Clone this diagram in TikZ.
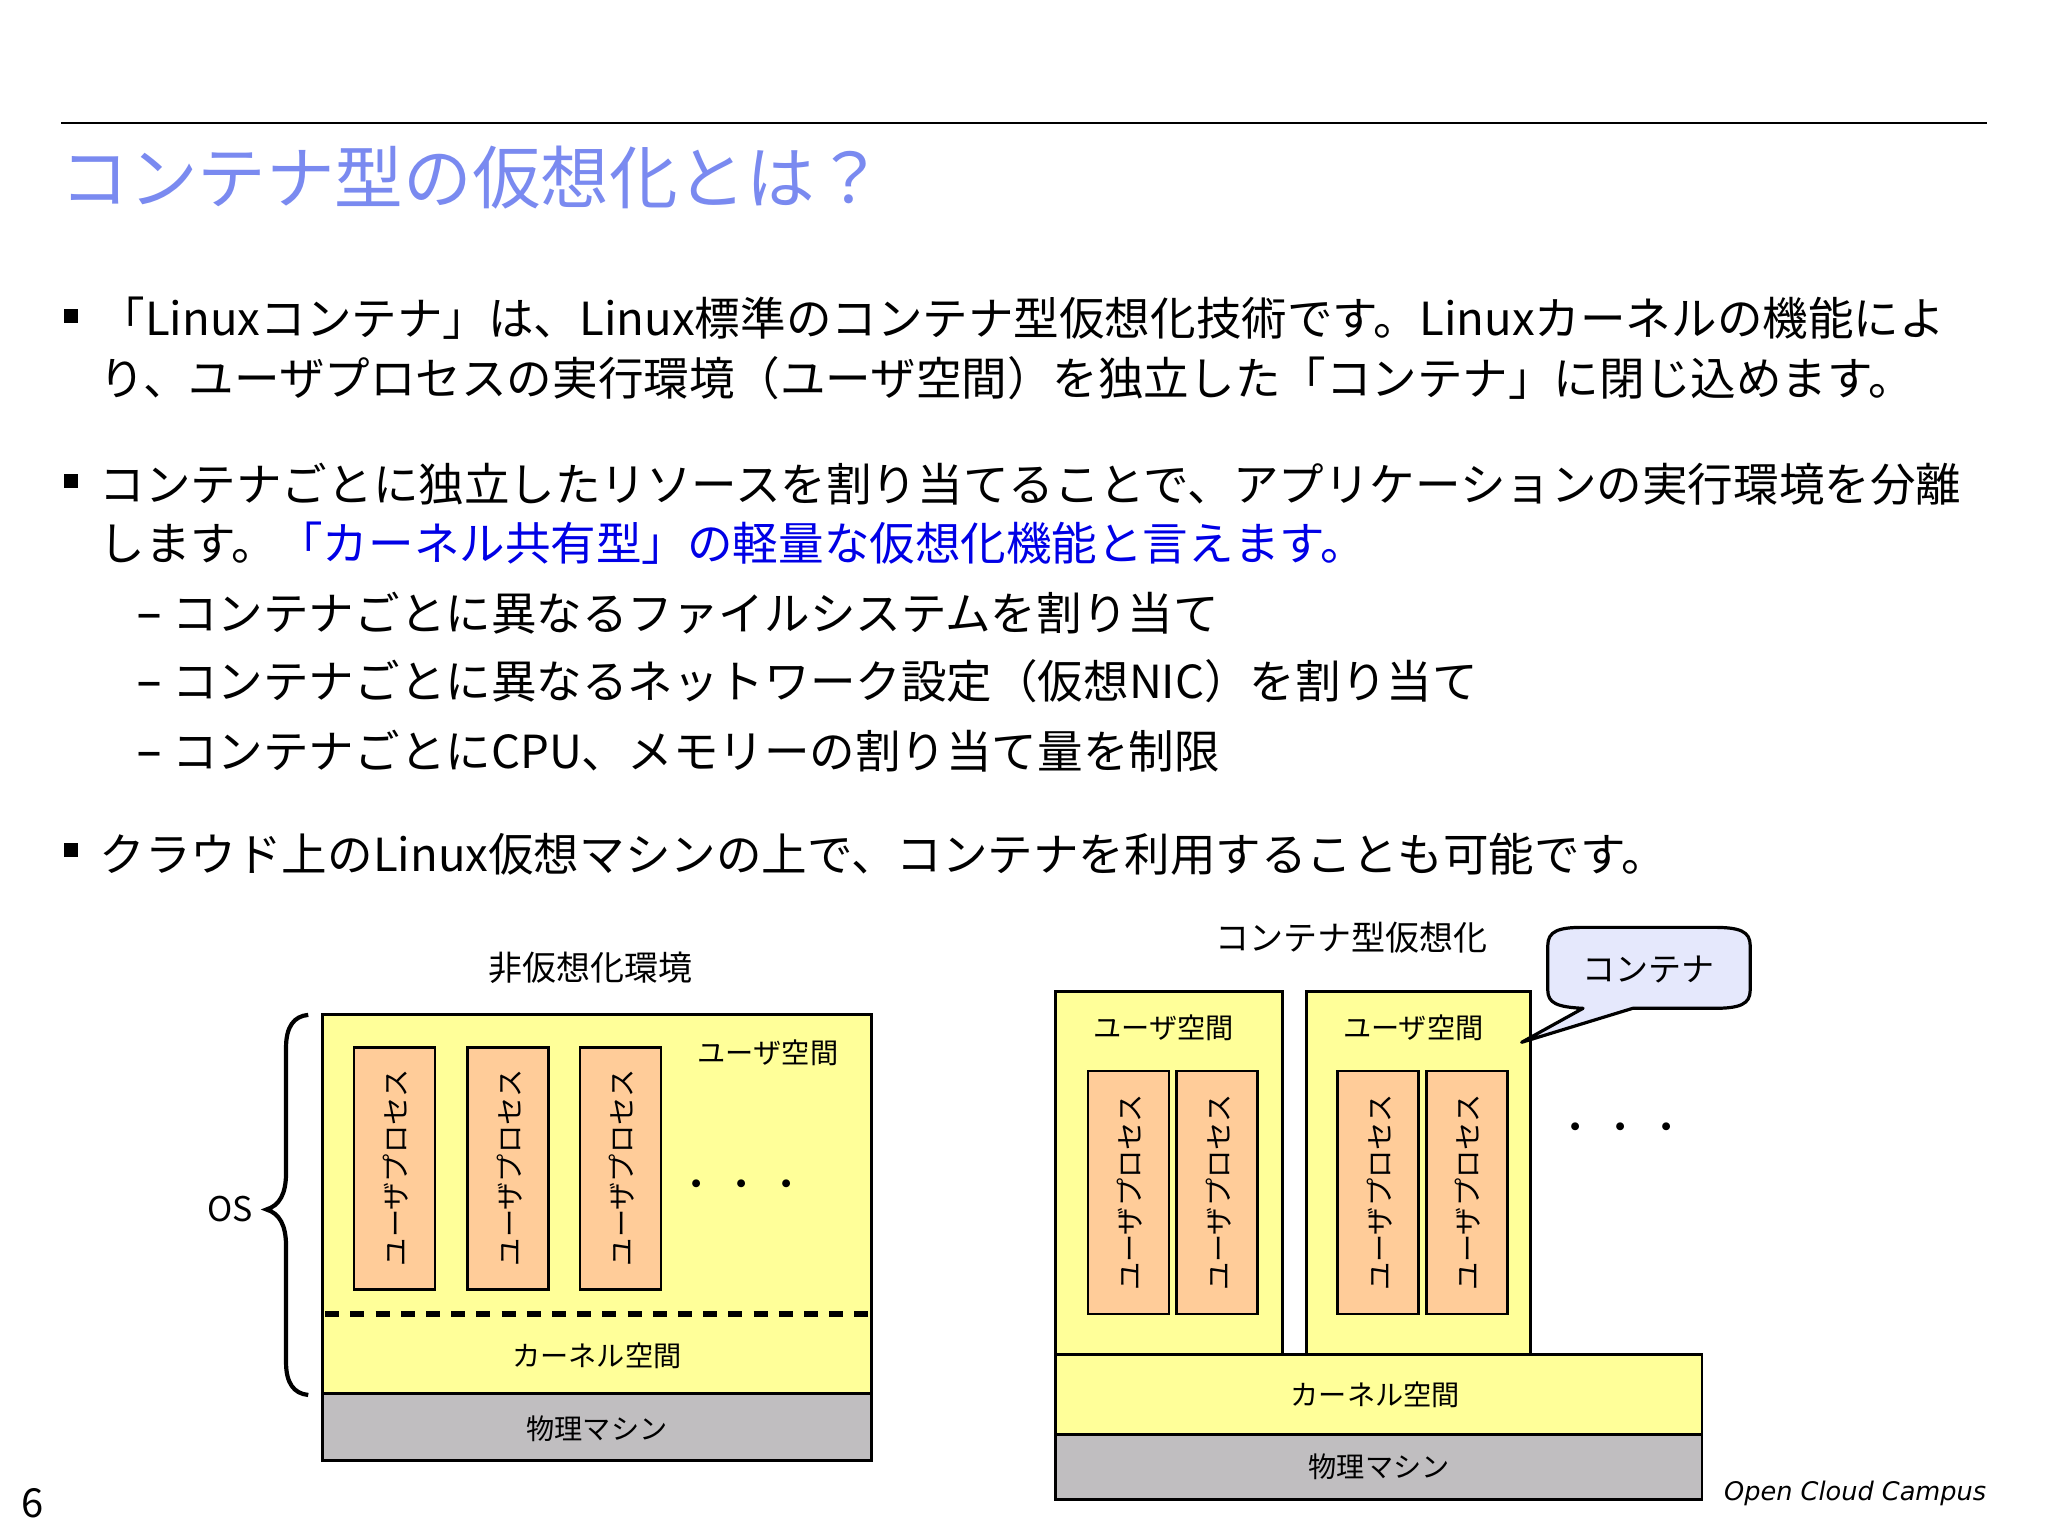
\documentclass[tikz,border=0pt]{standalone}
\usepackage{fontspec}
\setmainfont{Noto Sans CJK JP}
\newfontfamily\footfont{DejaVu Sans}
\usetikzlibrary{calc}

\definecolor{titleblue}{RGB}{122,138,240}
\definecolor{keyblue}{RGB}{0,0,230}
\definecolor{spaceyellow}{RGB}{255,255,153}
\definecolor{procorange}{RGB}{255,204,153}
\definecolor{machinegray}{RGB}{192,190,192}
\definecolor{calloutblue}{RGB}{229,232,252}

\newcommand{\subdash}{\makebox[18pt][l]{\footfont\fontsize{26}{27}\selectfont –}}

\tikzset{
  titletext/.style={anchor=base west,inner sep=0pt,text=titleblue,font=\fontsize{34.3}{40}\selectfont},
  bodytext/.style={anchor=base west,inner sep=0pt,font=\fontsize{22.78}{27}\selectfont},
  bulletbox/.style={fill=black,inner sep=0pt,minimum size=7pt},
  figtitle/.style={inner sep=0pt,font=\fontsize{17}{20}\selectfont},
  figlabel/.style={inner sep=0pt,font=\fontsize{14.1}{17}\selectfont},
  proclabel/.style={inner sep=0pt,rotate=90,font=\fontsize{14.1}{17}\selectfont},
  dotslabel/.style={inner sep=0pt,font=\bfseries\fontsize{14.1}{17}\selectfont},
  spacebox/.style={draw=black,line width=1.4pt,fill=spaceyellow},
  procbox/.style={draw=black,line width=1.4pt,fill=procorange},
  machinebox/.style={draw=black,line width=1.4pt,fill=machinegray}
}

\begin{document}
\begin{tikzpicture}[x=0.65306pt,y=-0.65306pt]
  \path[use as bounding box,fill=white] (0,0) rectangle (1568,1176);

  % heading
  \draw[line width=1pt] (47,94) -- (1521,94);
  \node[titletext] (title) at (46,156) {コンテナ型の仮想化とは？};

  % bullets
  \foreach \by/\bname in {242/bulletA,368/bulletB,651/bulletC}
    \node[bulletbox] (\bname) at (54.5,\by) {};
  \node[bodytext] (lineA) at (76,257) {「Linuxコンテナ」は、Linux標準のコンテナ型仮想化技術です。Linuxカーネルの機能によ};
  \node[bodytext] (lineB) at (76,303) {り、ユーザプロセスの実行環境（ユーザ空間）を独立した「コンテナ」に閉じ込めます。};
  \node[bodytext] (lineC) at (76,384) {コンテナごとに独立したリソースを割り当てることで、アプリケーションの実行環境を分離};
  \node[bodytext] (lineD) at (76,429) {します。\textcolor{keyblue}{「カーネル共有型」の軽量な仮想化機能と言えます。}};
  \node[bodytext] (subA) at (104,483) {\subdash コンテナごとに異なるファイルシステムを割り当て};
  \node[bodytext] (subB) at (104,535) {\subdash コンテナごとに異なるネットワーク設定（仮想NIC）を割り当て};
  \node[bodytext] (subC) at (104,588) {\subdash コンテナごとにCPU、メモリーの割り当て量を制限};
  \node[bodytext] (lineE) at (76,667) {クラウド上のLinux仮想マシンの上で、コンテナを利用することも可能です。};

  % left figure
  \node[figtitle] (plainTitle) at (452,741) {非仮想化環境};
  \draw[spacebox] (247,777) rectangle (667,1067);
  \draw[machinebox] (247,1067) rectangle (667,1118);
  \foreach \px/\pname in {271/plainA,358/plainB,444/plainC} {
    \draw[procbox] (\px,802) rectangle ++(62,185);
    \node[proclabel] (\pname) at (\px+32,894) {ユーザプロセス};
  }
  \draw[line width=2.8pt,dash pattern=on 7pt off 5.6pt] (249,1006) -- (667,1006);
  \node[figlabel] (plainUser) at (588,806) {ユーザ空間};
  \node[dotslabel] (plainDots) at (568,909) {・\hspace{8.5pt}・\hspace{8.5pt}・};
  \node[figlabel] (plainKernel) at (457,1038) {カーネル空間};
  \node[figlabel] (plainMachine) at (457,1094) {物理マシン};
  \node[inner sep=0pt,font=\fontsize{17}{20}\selectfont] (osLabel) at (176,926) {OS};
  \draw[line width=2.1pt] (236,777) .. controls (225,778) and (219,786) .. (219,802) -- (219,898)
    .. controls (219,914) and (214,923) .. (204,926) .. controls (214,929) and (219,938) .. (219,954)
    -- (219,1043) .. controls (219,1059) and (225,1067) .. (236,1068);

  % right figure
  \node[figtitle] (contTitle) at (1035,718) {コンテナ型仮想化};
  \draw[spacebox] (808,759) rectangle (982,1037);
  \draw[spacebox] (1000,759) rectangle (1172,1037);
  \draw[spacebox] (808,1037) rectangle (1303,1098);
  \draw[machinebox] (808,1098) rectangle (1303,1148);
  \foreach \px/\pname in {833/contA,901/contB,1024/contC,1092/contD} {
    \draw[procbox] (\px,820) rectangle ++(62,186);
    \node[proclabel] (\pname) at (\px+32,913) {ユーザプロセス};
  }
  \node[figlabel] (userA) at (891,787) {ユーザ空間};
  \node[figlabel] (userB) at (1082,787) {ユーザ空間};
  \node[dotslabel] (contDots) at (1241,865) {・\hspace{8.5pt}・\hspace{8.5pt}・};
  \node[figlabel] (contKernel) at (1053,1068) {カーネル空間};
  \node[figlabel] (contMachine) at (1056,1123) {物理マシン};

  % balloon
  \draw[line width=1.6pt,line join=round,fill=calloutblue] (1212,772) .. controls (1192,771) and (1185,768) .. (1185,758)
    -- (1185,724) .. controls (1185,713) and (1193,710) .. (1212,710) -- (1312,710)
    .. controls (1332,710) and (1340,713) .. (1340,724) -- (1340,758)
    .. controls (1340,769) and (1332,772) .. (1312,772) -- (1250,772) -- (1165,798) -- cycle;
  \node[inner sep=0pt,font=\fontsize{16.5}{20}\selectfont] (balloonText) at (1262,742) {コンテナ};

  % footer
  \node[inner sep=0pt,font=\fontsize{20}{24}\selectfont] (pageNo) at (25,1151) {6};
  \node[anchor=base east,inner sep=0pt,font=\footfont\itshape\fontsize{12.8}{15}\selectfont] (credit) at (1521,1149) {Open Cloud Campus};
\end{tikzpicture}
\end{document}
